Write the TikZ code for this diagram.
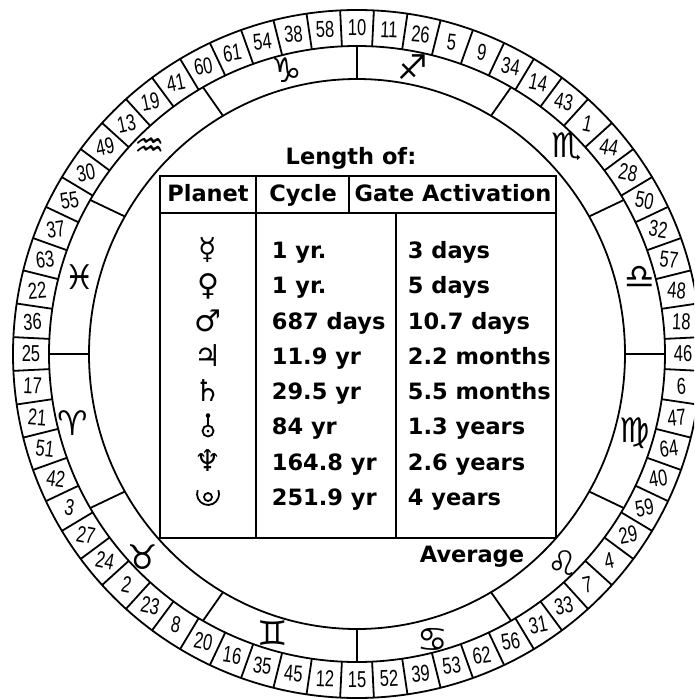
\documentclass[tikz,border=0pt]{standalone}
\usepackage{fontspec}
\usepackage{graphicx}
\setmainfont{DejaVu Sans}
\newfontfamily\gatefont{Liberation Sans}
\begin{document}
\begin{tikzpicture}[x=1pt,y=-1pt,line width=1.8pt,
  gate/.style={font=\gatefont\fontsize{23}{23}\selectfont, inner sep=0pt},
  sign/.style={font=\fontsize{34}{34}\selectfont, inner sep=0pt},
  tbl/.style={font=\bfseries\fontsize{22.5}{22.5}\selectfont, inner sep=0pt, text height=16pt, text depth=4pt},
  pl/.style={font=\fontsize{30}{30}\selectfont, inner sep=0pt}]
\useasboundingbox (0,0) rectangle (694,699);
\clip (0,0) rectangle (694,699);
\fill[white] (0,0) rectangle (694,699);
\def\cx{357}\def\cy{354}
% rings
\draw (\cx,\cy) circle[radius=344pt];
\draw (\cx,\cy) circle[radius=308pt];
\draw (\cx,\cy) ellipse[x radius=268pt, y radius=275pt];
% gates
\foreach \g [count=\i from 0] in {10,11,26,5,9,34,14,43,1,44,28,50,32,57,48,18,46,6,47,64,40,59,29,4,7,33,31,56,62,53,39,52,15,12,45,35,16,20,8,23,2,24,27,3,42,51,21,17,25,36,22,63,37,55,30,49,13,19,41,60,61,54,38,58}{
  \pgfmathsetmacro\ang{90-\i*5.625}
  \pgfmathsetmacro\bang{\ang+2.8125}
  \pgfmathsetmacro\rot{-12*sin(2*\i*5.625)}
  \node[gate,rotate=\rot] (g\g) at ({\cx+326*cos(\ang)},{\cy-326*sin(\ang)}) {\scalebox{0.72}[1]{\g}};
  \draw ({\cx+308*cos(\bang)},{\cy-308*sin(\bang)}) -- ({\cx+344*cos(\bang)},{\cy-344*sin(\bang)});
}
% zodiac dividers
\foreach \k in {0,...,11}{
  \pgfmathsetmacro\ang{90-30*\k}
  \draw ({\cx+268*cos(\ang)},{\cy-275*sin(\ang)}) -- ({\cx+308*cos(\ang)},{\cy-308*sin(\ang)});
}
% zodiac signs
\node[sign] (zcap) at (287,70) {♑};
\node[sign] (zsag) at (413,67) {♐};
\node[sign] (zsco) at (567,147) {♏};
\node[sign] (zlib) at (640,277) {♎};
\node[sign] (zvir) at (635,433) {♍};
\node[sign] (zleo) at (563,563) {♌};
\node[sign] (zcan) at (433,640) {♋};
\node[sign] (zgem) at (273,633) {♊};
\node[sign] (ztau) at (143,557) {♉};
\node[sign] (zari) at (73,423) {♈};
\node[sign] (zpis) at (80,277) {♓};
\node[sign] (zaqu) at (150,148) {♒};
% table
\draw (160,176) rectangle (556,538);
\draw (160,213) -- (556,213);
\draw (256,176) -- (256,538);
\draw (349,176) -- (349,213);
\draw (396,213) -- (396,538);
\node[tbl] (len) at (351,158) {Length of:};
\node[tbl] (hp) at (208,195) {Planet};
\node[tbl] (hc) at (303,195) {Cycle};
\node[tbl] (ha) at (453,195) {Gate Activation};
\foreach \yy/\c/\a [count=\n] in {252/1 yr./3 days, 287/1 yr./5 days, 323/687 days/10.7 days, 358/11.9 yr/2.2 months, 393/29.5 yr/5.5 months, 428/84 yr/1.3 years, 464/164.8 yr/2.6 years, 499/251.9 yr/4 years}{
  \node[tbl,anchor=west] (c\n) at (271,\yy) {\c};
  \node[tbl,anchor=west] (a\n) at (407,\yy) {\a};
}
\node[pl] (p1) at (208,250) {☿};
\node[pl] (p2) at (208,286) {♀};
\node[pl] (p3) at (208,321) {♂};
\node[pl] (p4) at (208,356) {♃};
\node[pl] (p5) at (208,391) {♄};
\node[pl] (p7) at (208,461) {♆};
% Uranus
\draw[line width=1.8pt] (208,431) circle[radius=5.5pt];
\fill (208,431) circle[radius=1.5pt];
\draw[line width=1.8pt] (208,425.5) -- (208,417);
\fill (208,415.5) circle[radius=2.3pt];
% Pluto
\draw[line width=1.8pt] (197.7,490.2) arc[start angle=160,end angle=380,radius=11pt];
\draw[line width=1.8pt] (208,497) circle[radius=4pt];
\node[tbl] (avg) at (472,556) {Average};
\end{tikzpicture}
\end{document}
